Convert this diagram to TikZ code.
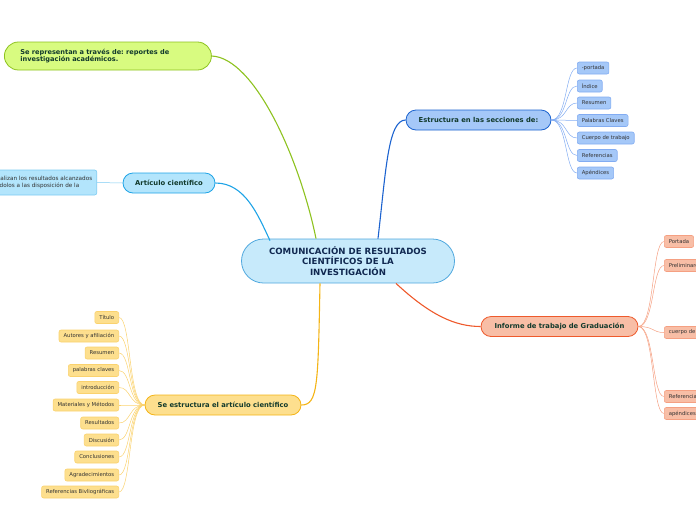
\documentclass[tikz,border=0pt]{standalone}
\usepackage{fontspec}
\setmainfont{DejaVu Sans}
\usepackage{tikz}
\usetikzlibrary{positioning, calc}
\frenchspacing
\definecolor{mynavy}{RGB}{16,40,80}
\definecolor{mytext}{RGB}{18,58,44}
\definecolor{mygray}{RGB}{50,50,50}
\definecolor{mycyan}{RGB}{80,168,222}
\definecolor{mygreen}{RGB}{141,194,31}
\definecolor{mysky}{RGB}{30,163,230}
\definecolor{myblue}{RGB}{28,99,207}
\definecolor{myorange}{RGB}{238,90,44}
\definecolor{myamber}{RGB}{244,180,22}
\definecolor{hdrcyan}{RGB}{199,234,251}
\definecolor{hdrgreen}{RGB}{216,251,128}
\definecolor{hdrsky}{RGB}{179,229,252}
\definecolor{hdrblue}{RGB}{165,200,248}
\definecolor{hdrorange}{RGB}{248,190,166}
\definecolor{hdramber}{RGB}{253,223,142}
\definecolor{lnsky}{RGB}{125,203,242}
\definecolor{lnblue}{RGB}{130,172,242}
\definecolor{lnorange}{RGB}{245,160,130}
\definecolor{lnamber}{RGB}{250,210,110}
\tikzset{
  topic/.style={rectangle, rounded corners=10pt, line width=0.8pt,
    minimum height=20pt, inner xsep=8pt, inner ysep=0pt,
    font=\fontsize{6.8}{8}\selectfont\bfseries, text=mytext},
  leaf/.style={rectangle, rounded corners=2pt, line width=0.6pt,
    minimum height=12pt, inner xsep=4.5pt, inner ysep=0pt,
    font=\fontsize{5.3}{6}\selectfont, text=mygray},
  branch/.style={line width=1.1pt},
  twig/.style={line width=0.5pt}
}
\begin{document}
\begin{tikzpicture}[x=1pt, y=-1pt]
  \useasboundingbox (0,0) rectangle (696,520);
  \clip (0,0) rectangle (696,520);

  % central topic
  \node[topic, fill=hdrcyan, draw=mycyan, minimum width=213pt, minimum height=44pt,
    rounded corners=22pt, align=center, text=mynavy,
    font=\fontsize{8.6}{10.8}\selectfont\bfseries] (com) at (348,261)
    {COMUNICACIÓN DE RESULTADOS\\CIENTÍFICOS DE LA\\INVESTIGACIÓN};

  % main branches
  \node[topic, fill=hdrgreen, draw=mygreen, minimum height=28pt, rounded corners=14pt,
    text width=175pt, inner xsep=16pt, align=left, anchor=west,
    font=\fontsize{6.6}{7.6}\selectfont\bfseries] (rep) at (4,56)
    {Se representan a través de: reportes de\\investigación académicos.};
  \node[topic, fill=hdrsky, draw=mysky, minimum width=92pt] (art) at (169,183) {Artículo científico};
  \node[topic, fill=hdrblue, draw=myblue, minimum width=145pt] (est) at (478.5,120) {Estructura en las secciones de:};
  \node[topic, fill=hdrorange, draw=myorange, minimum width=157pt] (inf) at (559.5,326.5) {Informe de trabajo de Graduación};
  \node[topic, fill=hdramber, draw=myamber, minimum width=156pt] (sea) at (223,405) {Se estructura el artículo científico};

  \draw[branch, mygreen] ($(com.north)+(-32,0)$) .. controls (300,160) and (255,58) .. (rep.east);
  \draw[branch, mysky] ($(com.north)+(-78,2)$) .. controls (258,215) and (245,183) .. (art.east);
  \draw[branch, myblue] ($(com.north)+(30,0)$) .. controls (386,170) and (388,120) .. (est.west);
  \draw[branch, myorange] ($(com.south)+(48,0)$) .. controls (430,315) and (455,326.5) .. (inf.west);
  \draw[branch, myamber] ($(com.south)+(-28,0)$) .. controls (318,385) and (318,405) .. (sea.east);

  % Articulo cientifico
  \node[leaf, fill=hdrsky, draw=lnsky, minimum height=25pt, align=left, anchor=east,
    font=\fontsize{5.7}{6.4}\selectfont] (soc) at (97,182.5)
    {Se socializan los resultados alcanzados\\poniéndolos a las disposición de la};
  \draw[twig, lnsky] (art.west) -- (soc.east);

  % Estructura en las secciones
  \node[leaf, fill=hdrblue, draw=lnblue, anchor=west] (e1) at (577,68) {-portada};
  \node[leaf, fill=hdrblue, draw=lnblue, anchor=west] (e2) at (577,86) {Índice};
  \node[leaf, fill=hdrblue, draw=lnblue, anchor=west] (e3) at (577,103) {Resumen};
  \node[leaf, fill=hdrblue, draw=lnblue, anchor=west] (e4) at (577,120.5) {Palabras Claves};
  \node[leaf, fill=hdrblue, draw=lnblue, anchor=west] (e5) at (577,138) {Cuerpo de trabajo};
  \node[leaf, fill=hdrblue, draw=lnblue, anchor=west] (e6) at (577,155.5) {Referencias};
  \node[leaf, fill=hdrblue, draw=lnblue, anchor=west] (e7) at (577,173) {Apéndices};
  \foreach \n in {e1,e2,e3,e4,e5,e6,e7}
    \draw[twig, lnblue] (est.east) .. controls +(16,0) and +(-12,0) .. (\n.west);

  % Informe de trabajo
  \node[leaf, fill=hdrorange, draw=lnorange, anchor=west] (i1) at (664,241.5) {Portada};
  \node[leaf, fill=hdrorange, draw=lnorange, anchor=west] (i2) at (664,265.5) {Preliminares};
  \node[leaf, fill=hdrorange, draw=lnorange, anchor=west] (i3) at (664,332.5) {cuerpo de trabajo};
  \node[leaf, fill=hdrorange, draw=lnorange, anchor=west] (i4) at (664,396.5) {Referencias};
  \node[leaf, fill=hdrorange, draw=lnorange, anchor=west] (i5) at (664,413.5) {apéndices};
  \foreach \n in {i1,i2,i3,i4,i5}
    \draw[twig, lnorange] (inf.east) .. controls +(16,0) and +(-12,0) .. (\n.west);

  % Se estructura el articulo
  \node[leaf, fill=hdramber, draw=lnamber, anchor=east] (a1) at (119,317.5) {Título};
  \node[leaf, fill=hdramber, draw=lnamber, anchor=east] (a2) at (119,336) {Autores y afiliación};
  \node[leaf, fill=hdramber, draw=lnamber, anchor=east] (a3) at (119,353) {Resumen};
  \node[leaf, fill=hdramber, draw=lnamber, anchor=east] (a4) at (119,370.5) {palabras claves};
  \node[leaf, fill=hdramber, draw=lnamber, anchor=east] (a5) at (119,387.5) {introducción};
  \node[leaf, fill=hdramber, draw=lnamber, anchor=east] (a6) at (119,405) {Materiales y Métodos};
  \node[leaf, fill=hdramber, draw=lnamber, anchor=east] (a7) at (119,423) {Resultados};
  \node[leaf, fill=hdramber, draw=lnamber, anchor=east] (a8) at (119,440) {Discusión};
  \node[leaf, fill=hdramber, draw=lnamber, anchor=east] (a9) at (119,457) {Conclusiones};
  \node[leaf, fill=hdramber, draw=lnamber, anchor=east] (a10) at (119,475) {Agradecimientos};
  \node[leaf, fill=hdramber, draw=lnamber, anchor=east] (a11) at (119,492) {Referencias Bivliográficas};
  \foreach \n in {a1,a2,a3,a4,a5,a6,a7,a8,a9,a10,a11}
    \draw[twig, lnamber] (sea.west) .. controls +(-16,0) and +(12,0) .. (\n.east);
\end{tikzpicture}
\end{document}
